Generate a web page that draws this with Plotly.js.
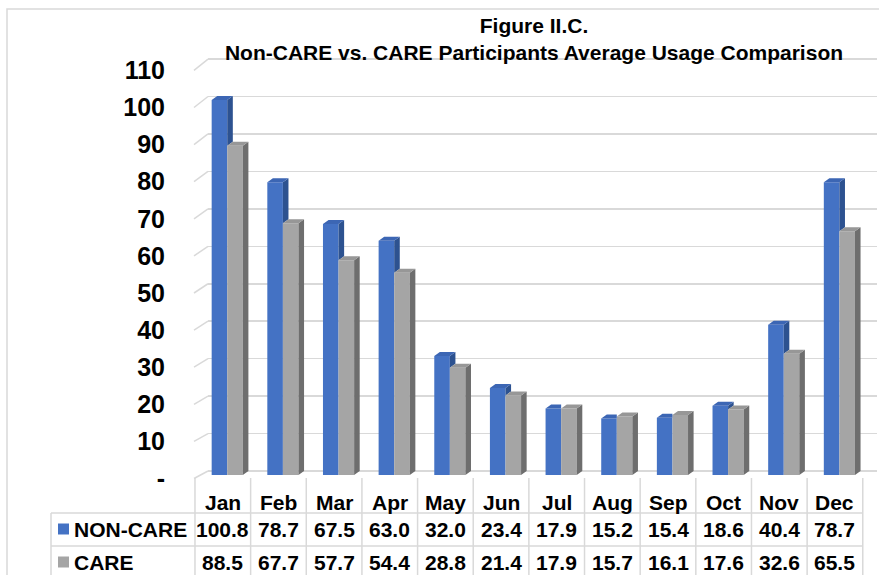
<!DOCTYPE html>
<html>
<head>
<meta charset="utf-8">
<script src="https://cdn.plot.ly/plotly-3.0.1.min.js"></script>
<style>html,body{margin:0;padding:0;background:#fff;}#chart{width:879px;height:575px;}</style>
</head>
<body>
<div id="chart"></div>
<script>
// ---- data ----
const months = ['Jan','Feb','Mar','Apr','May','Jun','Jul','Aug','Sep','Oct','Nov','Dec'];
const nonCare = [100.8,78.7,67.5,63.0,32.0,23.4,17.9,15.2,15.4,18.6,40.4,78.7];
const care = [88.5,67.7,57.7,54.4,28.8,21.4,17.9,15.7,16.1,17.6,32.6,65.5];
const seriesNames = ['NON-CARE','CARE'];
const yTickVals = [0,10,20,30,40,50,60,70,80,90,100,110];
const yTickText = ['-','10','20','30','40','50','60','70','80','90','100','110'];

// ---- geometry ----
const W = 879, H = 575;
const M = {l: 208, r: 2, t: 40, b: 85};
const plotW = W - M.l - M.r, plotH = H - M.t - M.b;
const pxX = px => (px - M.l) / plotW;
const pxY = py => (H - M.b - py) / plotH;
const c0 = 222.8, U = 55.65;               // px of category 0, px per category
const dataX = x => c0 + U * x;
const xRange = [(M.l - c0) / U, (W - M.r - c0) / U];
function rangeFor(zeroPx, pxPerUnit) {
  return [(zeroPx - (H - M.b)) / pxPerUnit, (zeroPx - M.t) / pxPerUnit];
}
const barScale = {zero: 475, s: 3.72};     // bar plane
const gridScale = {zero: 471, s: 3.745};   // back wall
const labelScale = {zero: 478.5, s: 3.71}; // front edge
const bw = 0.28, dxD = 0.1, dyD = 4 / barScale.s;
const offs = [-0.20, 0.08];
const colors = {
  front: ['#4472C4', '#A5A5A5'],
  side: ['#2d5290', '#6e6e6e'],
  top: ['#3c66b4', '#979797']
};
const FONT = 'Liberation Sans, Arial, sans-serif';

const vals = [nonCare, care];
const traces = [];
// front faces as bars
vals.forEach((v, s) => {
  traces.push({
    type: 'bar', name: seriesNames[s], x: months.map((m, i) => i), y: v,
    offset: offs[s], width: bw, yaxis: 'y2',
    marker: {color: colors.front[s], line: {width: 0}},
    hoverinfo: 'skip', showlegend: false
  });
});
// side and top faces
function poly(pts, xs, ys) { pts.forEach(p => { xs.push(p[0]); ys.push(p[1]); }); xs.push(null); ys.push(null); }
vals.forEach((v, s) => {
  const sx = [], sy = [], tx = [], ty = [];
  v.forEach((val, i) => {
    const x0 = i + offs[s], x1 = x0 + bw;
    if (s === 0) {
      const g = care[i];
      if (val > g) {
        poly([[x1, g], [x1, val], [x1 + dxD, val + dyD], [x1 + dxD, g + dyD]], sx, sy);
        poly([[x0, val], [x1, val], [x1 + dxD, val + dyD], [x0 + dxD, val + dyD]], tx, ty);
      } else {
        poly([[x0, val], [x1, val], [x1, val + dyD], [x0 + dxD, val + dyD]], tx, ty);
      }
    } else {
      poly([[x1, 0], [x1, val], [x1 + dxD, val + dyD], [x1 + dxD, dyD]], sx, sy);
      poly([[x0, val], [x1, val], [x1 + dxD, val + dyD], [x0 + dxD, val + dyD]], tx, ty);
    }
  });
  traces.push({type: 'scatter', mode: 'lines', x: sx, y: sy, yaxis: 'y2', fill: 'toself',
    fillcolor: colors.side[s], line: {width: 0, color: 'rgba(0,0,0,0)'}, hoverinfo: 'skip', showlegend: false});
  traces.push({type: 'scatter', mode: 'lines', x: tx, y: ty, yaxis: 'y2', fill: 'toself',
    fillcolor: colors.top[s], line: {width: 0, color: 'rgba(0,0,0,0)'}, hoverinfo: 'skip', showlegend: false});
});
// axis carriers
traces.unshift({type: 'scatter', x: [], y: [], yaxis: 'y', hoverinfo: 'skip', showlegend: false});
traces.push({type: 'scatter', x: [], y: [], yaxis: 'y3', hoverinfo: 'skip', showlegend: false});

const lineCol = '#d9d9d9';
const shapes = [];
const annotations = [];
// chart border
shapes.push({type: 'rect', xref: 'paper', yref: 'paper', x0: pxX(7), x1: pxX(W + 20), y0: pxY(9), y1: pxY(H + 20),
  line: {color: lineCol, width: 1.5}, fillcolor: 'rgba(0,0,0,0)', layer: 'below'});
// side wall slanted tick segments
yTickVals.forEach(v => {
  shapes.push({type: 'line', xref: 'paper', yref: 'paper',
    x0: pxX(194), y0: pxY(labelScale.zero - labelScale.s * v),
    x1: pxX(M.l), y1: pxY(gridScale.zero - gridScale.s * v),
    line: {color: lineCol, width: 1.5}});
});
// data table grid
const tTop = 478, tRow1 = 513, tRow2 = 546, tBot = 582, tLeft = 51;
for (let i = 0; i <= months.length; i++) {
  shapes.push({type: 'line', xref: 'paper', yref: 'paper',
    x0: pxX(dataX(i - 0.5)), x1: pxX(dataX(i - 0.5)), y0: pxY(tTop), y1: pxY(tBot),
    line: {color: lineCol, width: 1.5}});
}
[tRow1, tRow2].forEach(py => {
  shapes.push({type: 'line', xref: 'paper', yref: 'paper',
    x0: pxX(tLeft), x1: pxX(dataX(months.length - 0.5)), y0: pxY(py), y1: pxY(py),
    line: {color: lineCol, width: 1.5}});
});
shapes.push({type: 'line', xref: 'paper', yref: 'paper', x0: pxX(tLeft), x1: pxX(tLeft),
  y0: pxY(tRow1), y1: pxY(tBot), line: {color: lineCol, width: 1.5}});
// table text
const rowY = [529, 562];
const tf = {family: FONT, size: 21, color: '#000', weight: 'bold'};
months.forEach((m, i) => {
  annotations.push({xref: 'x', yref: 'paper', x: i, y: pxY(502), text: m, showarrow: false,
    xanchor: 'center', yanchor: 'middle', font: tf});
  vals.forEach((v, s) => {
    annotations.push({xref: 'x', yref: 'paper', x: i, y: pxY(rowY[s]), text: v[i].toFixed(1), showarrow: false,
      xanchor: 'center', yanchor: 'middle', font: tf});
  });
});
seriesNames.forEach((n, s) => {
  annotations.push({xref: 'paper', yref: 'paper', x: pxX(72), y: pxY(rowY[s]), text: n, showarrow: false,
    xanchor: 'left', yanchor: 'middle', font: tf});
  shapes.push({type: 'rect', xref: 'paper', yref: 'paper', x0: pxX(58), x1: pxX(69),
    y0: pxY(rowY[s] + 5.5), y1: pxY(rowY[s] - 5.5), line: {width: 0}, fillcolor: colors.front[s]});
});

const layout = {
  width: W, height: H,
  margin: M,
  paper_bgcolor: '#fff', plot_bgcolor: '#fff',
  showlegend: false,
  barmode: 'overlay',
  title: {
    text: 'Figure II.C.<br>Non-CARE vs. CARE Participants Average Usage Comparison',
    font: {family: FONT, size: 21, color: '#000', weight: 'bold'},
    xref: 'container', yref: 'container', x: 534 / W, xanchor: 'center',
    y: 1 - 33 / H, yanchor: 'middle'
  },
  xaxis: {range: xRange, showgrid: false, zeroline: false, showticklabels: false, showline: false, ticks: '', fixedrange: true},
  yaxis: {range: rangeFor(gridScale.zero, gridScale.s), tickvals: yTickVals, showticklabels: false,
    showgrid: true, gridcolor: lineCol, gridwidth: 1.5, zeroline: false, showline: false, ticks: '', fixedrange: true},
  yaxis2: {overlaying: 'y', range: rangeFor(barScale.zero, barScale.s), visible: false, showgrid: false, zeroline: false, fixedrange: true},
  yaxis3: {overlaying: 'y', side: 'left', range: rangeFor(labelScale.zero, labelScale.s), tickvals: yTickVals, ticktext: yTickText,
    showgrid: false, zeroline: false, showline: false, ticks: 'outside', ticklen: 37, tickcolor: 'rgba(0,0,0,0)',
    tickfont: {family: FONT, size: 25, color: '#000', weight: 'bold'}, fixedrange: true},
  shapes: shapes,
  annotations: annotations
};

Plotly.newPlot('chart', traces, layout, {displayModeBar: false, staticPlot: true});
</script>
</body>
</html>
